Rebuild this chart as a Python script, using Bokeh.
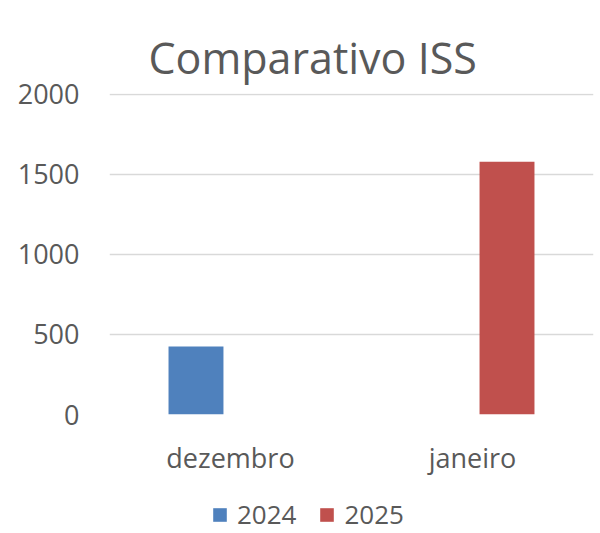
from bokeh.plotting import figure
from bokeh.layouts import column
from bokeh.models import FactorRange, Range1d, Legend, LegendItem, ColumnDataSource
from bokeh.transform import dodge
from bokeh.embed import file_html
from bokeh.resources import INLINE

months = ["dezembro", "janeiro"]
y2024 = [425, 0]
y2025 = [0, 1578]
series = ["2024", "2025"]
colors = ["#4F81BD", "#C0504D"]
y_ticks = [0, 500, 1000, 1500, 2000]
title_text = "Comparativo ISS"

FONT = "Open Sans"
TXT = "#595959"

src = ColumnDataSource(dict(m=months, a=y2024, b=y2025))

p = figure(width=594, height=483, output_backend="svg", toolbar_location=None,
           x_range=FactorRange(*months, range_padding=0), y_range=Range1d(0, 2004),
           min_border_left=109, min_border_right=1, min_border_top=93, min_border_bottom=69)
p.title.text = title_text
p.title.align = "left"
p.title.offset = 39
p.title.vertical_align = "top"
p.title.text_font = FONT
p.title.text_font_size = "43px"
p.title.text_color = TXT
p.title.text_font_style = "normal"
p.title.standoff = 10

r1 = p.vbar(x=dodge("m", -0.1426, range=p.x_range), top="a", width=0.227, source=src,
            fill_color=colors[0], line_color=None)
r2 = p.vbar(x=dodge("m", 0.1426, range=p.x_range), top="b", width=0.227, source=src,
            fill_color=colors[1], line_color=None)

p.outline_line_color = None

p.yaxis.ticker = y_ticks
p.yaxis.axis_line_color = None
p.yaxis.major_tick_line_color = None
p.yaxis.minor_tick_line_color = None
p.yaxis.major_label_standoff = 24
p.yaxis.major_label_text_font = FONT
p.yaxis.major_label_text_font_size = "27px"
p.yaxis.major_label_text_color = TXT

p.xaxis.axis_line_color = None
p.xaxis.major_tick_line_color = None
p.xaxis.major_label_standoff = 18
p.xaxis.major_label_text_font = FONT
p.xaxis.major_label_text_font_size = "27px"
p.xaxis.major_label_text_color = TXT

p.xgrid.grid_line_color = None
p.ygrid.grid_line_color = "#D9D9D9"
p.ygrid.grid_line_width = 1.5

# legend strip below the chart
lg = figure(width=594, height=49, output_backend="svg", toolbar_location=None,
            x_range=Range1d(0, 1), y_range=Range1d(0, 1), x_axis_type=None, y_axis_type=None,
            min_border_left=0, min_border_right=0, min_border_top=0, min_border_bottom=0)
lg.outline_line_color = None
lg.xgrid.grid_line_color = None
lg.ygrid.grid_line_color = None
# zero-height keys, only used for the legend swatches
keys = ColumnDataSource(dict(x=[0.5], top=[0.0]))
l1 = lg.vbar(x="x", top="top", bottom=0, width=0.1, source=keys, fill_color=colors[0], line_color=None)
l2 = lg.vbar(x="x", top="top", bottom=0, width=0.1, source=keys, fill_color=colors[1], line_color=None)
legend = Legend(items=[LegendItem(label=series[0], renderers=[l1]),
                       LegendItem(label=series[1], renderers=[l2])],
                orientation="horizontal", location=(102, 0),
                label_text_font=FONT, label_text_font_size="26px", label_text_color=TXT,
                glyph_width=17, glyph_height=17, spacing=22, label_standoff=9,
                border_line_color=None, background_fill_alpha=0, margin=0, padding=0)
lg.add_layout(legend, "center")

layout = column(p, lg, spacing=0)
open("out.html", "w").write(file_html(layout, INLINE))
